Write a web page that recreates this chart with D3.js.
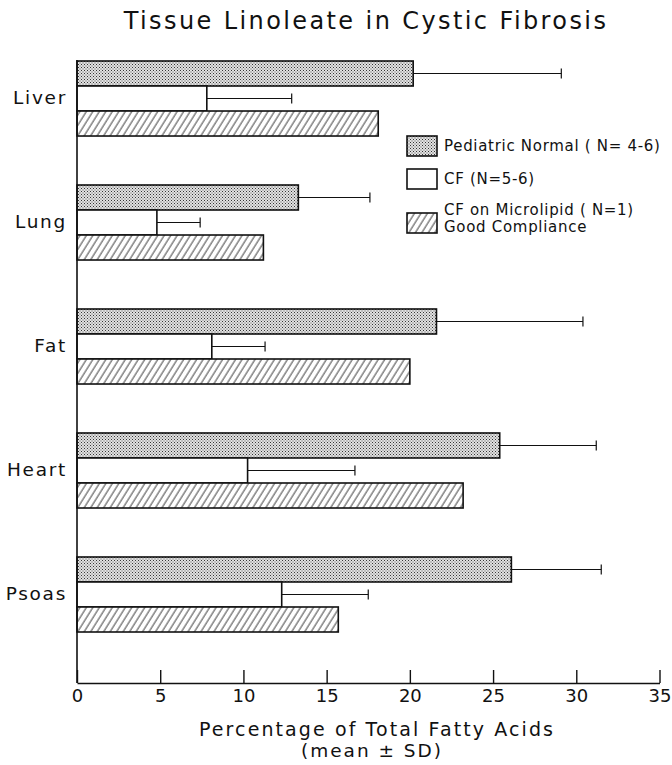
<!DOCTYPE html>
<html lang="en">
<head>
<meta charset="UTF-8">
<title>Tissue Linoleate in Cystic Fibrosis</title>
<script src="https://d3js.org/d3.v7.min.js"></script>
<style>
    body { margin: 0; background: #fff; }
    svg text { font-family: "DejaVu Sans", sans-serif; fill: #111; }
</style>
</head>
<body>
<div id="chart"></div>
<script>
    // data
    const tissues = ['Liver', 'Lung', 'Fat', 'Heart', 'Psoas'];
    const seriesKeys = ['normal', 'cf', 'micro'];
    const normalMean = [20.2, 13.3, 21.6, 25.4, 26.1];
    const normalSD = [8.9, 4.3, 8.8, 5.8, 5.4];
    const cfMean = [7.8, 4.8, 8.1, 10.25, 12.3];
    const cfSD = [5.1, 2.6, 3.2, 6.45, 5.2];
    const microMean = [18.1, 11.2, 20.0, 23.2, 15.7];
    const xTicks = [0, 5, 10, 15, 20, 25, 30, 35];
    const legendLabels = [
        ['Pediatric Normal ( N= 4-6)'],
        ['CF (N=5-6)'],
        ['CF on Microlipid ( N=1)', 'Good Compliance']
    ];

    const W = 672, H = 765;
    const margin = { top: 61, right: 13, bottom: 82, left: 77 };
    const axisY = H - margin.bottom;

    const svg = d3.select('#chart').append('svg')
        .attr('width', W)
        .attr('height', H);

    // fill patterns
    const defs = svg.append('defs');
    const dots = defs.append('pattern')
        .attr('id', 'dots')
        .attr('patternUnits', 'userSpaceOnUse')
        .attr('width', 3).attr('height', 3);
    dots.append('rect').attr('width', 3).attr('height', 3).attr('fill', '#e2e2e2');
    dots.append('rect').attr('x', 0).attr('y', 0).attr('width', 1).attr('height', 1).attr('fill', '#333');
    dots.append('rect').attr('x', 1.5).attr('y', 1.5).attr('width', 1).attr('height', 1).attr('fill', '#555');

    const hatch = defs.append('pattern')
        .attr('id', 'hatch')
        .attr('patternUnits', 'userSpaceOnUse')
        .attr('width', 5.5).attr('height', 10)
        .attr('patternTransform', 'rotate(32)');
    hatch.append('rect').attr('width', 5.5).attr('height', 10).attr('fill', '#fff');
    hatch.append('line')
        .attr('x1', 1).attr('y1', 0).attr('x2', 1).attr('y2', 10)
        .attr('stroke', '#222').attr('stroke-width', 0.9);

    const fills = { normal: 'url(#dots)', cf: '#fff', micro: 'url(#hatch)' };

    const x = d3.scaleLinear()
        .domain([0, 35])
        .range([margin.left, 659.5]);

    const y = d3.scaleBand()
        .domain(tissues)
        .range([margin.top, 632])
        .paddingInner(0.395);

    const ySub = d3.scaleBand()
        .domain(seriesKeys)
        .range([0, y.bandwidth()]);

    const rows = tissues.map((t, i) => ({
        tissue: t,
        bars: [
            { key: 'normal', value: normalMean[i], sd: normalSD[i] },
            { key: 'cf', value: cfMean[i], sd: cfSD[i] },
            { key: 'micro', value: microMean[i], sd: null }
        ]
    }));

    // title
    svg.append('text')
        .attr('x', 366)
        .attr('y', 21)
        .attr('dy', '0.35em')
        .attr('text-anchor', 'middle')
        .style('font-size', '24px')
        .style('letter-spacing', '2.4px')
        .text('Tissue Linoleate in Cystic Fibrosis');

    const groups = svg.selectAll('g.tissue')
        .data(rows)
        .enter()
        .append('g')
        .attr('class', 'tissue')
        .attr('transform', d => `translate(0,${y(d.tissue)})`);

    // error bars first so bars sit on top of the line start
    groups.selectAll('g.err')
        .data(d => d.bars.filter(b => b.sd !== null))
        .enter()
        .append('g')
        .attr('class', 'err')
        .each(function (b) {
            const g = d3.select(this);
            const cy = ySub(b.key) + ySub.bandwidth() / 2;
            g.append('line')
                .attr('x1', x(b.value)).attr('x2', x(b.value + b.sd))
                .attr('y1', cy).attr('y2', cy)
                .attr('stroke', '#111').attr('stroke-width', 1.2);
            g.append('line')
                .attr('x1', x(b.value + b.sd)).attr('x2', x(b.value + b.sd))
                .attr('y1', cy - 5).attr('y2', cy + 5)
                .attr('stroke', '#111').attr('stroke-width', 1.2);
        });

    groups.selectAll('rect')
        .data(d => d.bars)
        .enter()
        .append('rect')
        .attr('x', x(0))
        .attr('y', b => ySub(b.key))
        .attr('width', b => x(b.value) - x(0))
        .attr('height', ySub.bandwidth())
        .attr('fill', b => fills[b.key])
        .attr('stroke', '#111')
        .attr('stroke-width', 1.6);

    // category axis
    const yAxis = svg.append('g')
        .attr('transform', `translate(${x(0)},0)`)
        .call(d3.axisLeft(y).tickSize(0).tickPadding(10));
    yAxis.select('.domain').remove();
    yAxis.selectAll('text')
        .style('font-size', '18.5px')
        .style('letter-spacing', '1.7px')
        .style('font-family', '"DejaVu Sans", sans-serif');

    // left axis line
    svg.append('line')
        .attr('x1', x(0)).attr('x2', x(0))
        .attr('y1', 60).attr('y2', axisY)
        .attr('stroke', '#111').attr('stroke-width', 1.6);

    // value axis
    const xAxis = svg.append('g')
        .attr('transform', `translate(0,${axisY})`)
        .call(d3.axisBottom(x).tickValues(xTicks).tickSizeInner(-13).tickSizeOuter(0).tickPadding(6));
    xAxis.select('.domain').attr('stroke', '#111').attr('stroke-width', 1.6);
    xAxis.selectAll('.tick line').attr('stroke', '#111').attr('stroke-width', 1.4);
    xAxis.selectAll('text')
        .style('font-size', '18px')
        .style('font-family', '"DejaVu Sans", sans-serif')
        .attr('y', 6);

    svg.append('text')
        .attr('x', 377)
        .attr('y', 729)
        .attr('dy', '0.35em')
        .attr('text-anchor', 'middle')
        .style('font-size', '19px')
        .style('letter-spacing', '2.1px')
        .text('Percentage of Total Fatty Acids');

    svg.append('text')
        .attr('x', 372)
        .attr('y', 751)
        .attr('dy', '0.35em')
        .attr('text-anchor', 'middle')
        .style('font-size', '18.5px')
        .style('letter-spacing', '2px')
        .text('(mean ± SD)');

    // legend
    const legendY = [136, 169, 213];
    const legend = svg.selectAll('g.legend')
        .data(seriesKeys)
        .enter()
        .append('g')
        .attr('class', 'legend')
        .attr('transform', (d, i) => `translate(407,${legendY[i]})`);

    legend.append('rect')
        .attr('width', 30)
        .attr('height', 20)
        .attr('fill', d => fills[d])
        .attr('stroke', '#111')
        .attr('stroke-width', 1.6);

    legend.each(function (d, i) {
        const lines = legendLabels[i];
        const g = d3.select(this);
        lines.forEach((txt, j) => {
            g.append('text')
                .attr('x', 37)
                .attr('y', lines.length === 1 ? 10 : -3 + j * 17)
                .attr('dy', '0.35em')
                .style('font-size', '15px')
                .style('letter-spacing', '0.7px')
                .text(txt);
        });
    });
</script>
</body>
</html>
